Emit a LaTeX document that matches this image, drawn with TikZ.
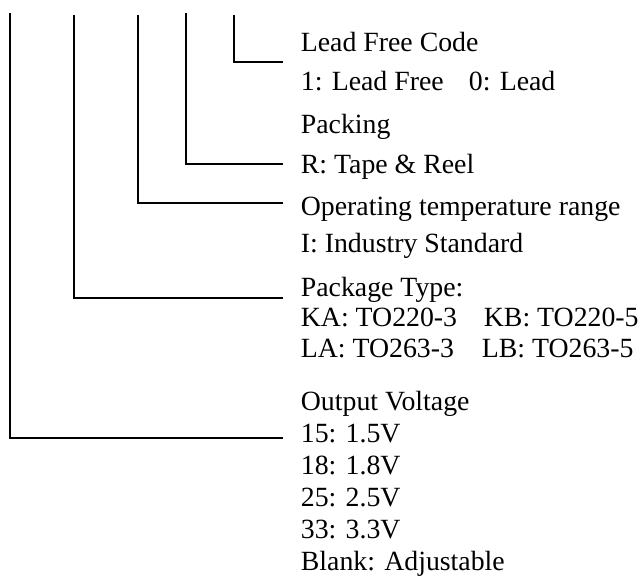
\documentclass[tikz,border=0pt]{standalone}
\usepackage{fontspec}
\setmainfont{Liberation Serif}
\usetikzlibrary{positioning}

\begin{document}
\begin{tikzpicture}[x=1pt, y=-1pt, line width=1.8pt,
    lbl/.style={anchor=base west, inner sep=0pt, font=\fontsize{27.8}{32}\selectfont}]
    \useasboundingbox (0,0) rectangle (642,577);

    % Lead free code
    \node [lbl] (lfc) at (300,52) {Lead Free Code};
    \node [lbl] (lf1) at (300,91) {1: Lead Free};
    \node [lbl] (lf0) at (468,91) {0: Lead};

    % Packing
    \node [lbl] (pk) at (300,134) {Packing};
    \node [lbl] (pkr) at (300,174) {R: Tape \& Reel};

    % Temperature range
    \node [lbl] (tr) at (300,216) {Operating temperature range};
    \node [lbl] (tri) at (300,253) {I: Industry Standard};

    % Package type
    \node [lbl] (pt) at (300,296) {Package Type:};
    \node [lbl] (pka) at (300,326) {KA: TO220-3};
    \node [lbl] (pkb) at (483,326) {KB: TO220-5};
    \node [lbl] (pla) at (300,357) {LA: TO263-3};
    \node [lbl] (plb) at (481,357) {LB: TO263-5};

    % Output voltage
    \node [lbl] (ov) at (300,410) {Output Voltage};
    \node [lbl] (ov15) at (300,442) {15: 1.5V};
    \node [lbl] (ov18) at (300,474) {18: 1.8V};
    \node [lbl] (ov25) at (300,506) {25: 2.5V};
    \node [lbl] (ov33) at (300,538) {33: 3.3V};
    \node [lbl] (ovb) at (300,570) {Blank: Adjustable};

    % Leader lines
    \coordinate (lftop) at (234,15);
    \coordinate (lfend) at (283,62);
    \coordinate (pktop) at (186,13);
    \coordinate (pkend) at (283,164);
    \coordinate (trtop) at (138,15);
    \coordinate (trend) at (283,203);
    \coordinate (pttop) at (74,15);
    \coordinate (ptend) at (283,298);
    \coordinate (ovtop) at (10,13);
    \coordinate (ovend) at (283,438);

    \draw (lftop) |- (lfend);
    \draw (pktop) |- (pkend);
    \draw (trtop) |- (trend);
    \draw (pttop) |- (ptend);
    \draw (ovtop) |- (ovend);
\end{tikzpicture}
\end{document}
